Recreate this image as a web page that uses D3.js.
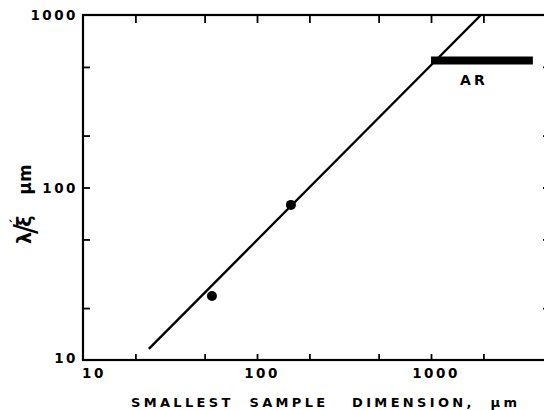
<!DOCTYPE html>
<html>
<head>
<meta charset="utf-8">
<script src="https://cdn.jsdelivr.net/npm/d3@7"></script>
<style>
  body { margin: 0; background: #fff; }
  text { font-family: "DejaVu Sans", "Liberation Sans", sans-serif; font-weight: bold; fill: #000; }
</style>
</head>
<body>
<div id="chart"></div>
<script>
// data
let fitLineX = [23.9, 1936];
let fitLineY = [11.6, 1000];
let pointX = [55.1, 156.7];
let pointY = [23.5, 79.3];
let arBarX = [1000, 3850];
let arBarY = 545;
let arLabel = "AR";
let xTickValues = [20, 50, 100, 200, 500, 1000, 2000, 5000];
let yTickValues = [20, 50, 100, 200, 500];
let xTickLabels = [10, 100, 1000];
let yTickLabels = [10, 100, 1000];
let xTitle = "SMALLEST  SAMPLE   DIMENSION,  μm";

let width = 544;
let height = 410;
let plotLeft = 83, plotTop = 15, plotBottom = 360, plotRight = 550;

let svg = d3.select("#chart")
    .append("svg")
    .attr("width", width)
    .attr("height", height);

let x = d3.scaleLog().domain([10, 10000]).range([plotLeft, plotLeft + 3 * 174]);
let y = d3.scaleLog().domain([10, 1000]).range([plotBottom, plotTop]);

// ticks (all pointing inward)
svg.append("g")
    .attr("transform", `translate(0,${plotBottom})`)
    .call(d3.axisBottom(x).tickValues(xTickValues).tickSize(-6).tickFormat(""));
svg.append("g")
    .attr("transform", `translate(0,${plotTop})`)
    .call(d3.axisTop(x).tickValues(xTickValues).tickSize(-8).tickFormat(""));
svg.append("g")
    .attr("transform", `translate(${plotLeft},0)`)
    .call(d3.axisLeft(y).tickValues(yTickValues).tickSize(-7).tickFormat(""));
svg.append("g")
    .attr("transform", `translate(${plotRight},0)`)
    .call(d3.axisRight(y).tickValues(yTickValues).tickSize(-7).tickFormat(""));

svg.selectAll(".domain").remove();
svg.selectAll(".tick line").attr("stroke", "#000").attr("stroke-width", 1.8);

// frame
svg.append("rect")
    .attr("x", plotLeft)
    .attr("y", plotTop)
    .attr("width", plotRight - plotLeft)
    .attr("height", plotBottom - plotTop)
    .attr("fill", "none")
    .attr("stroke", "#000")
    .attr("stroke-width", 2.2);

// tick labels
svg.selectAll(".xlab")
    .data(xTickLabels)
    .enter()
    .append("text")
    .attr("class", "xlab")
    .attr("x", (d, i) => x(d) + (i == 0 ? 11 : 5))
    .attr("y", 378)
    .attr("text-anchor", "middle")
    .style("font-size", "13.5px")
    .style("letter-spacing", "2.5px")
    .text(d => d);

svg.selectAll(".ylab")
    .data(yTickLabels)
    .enter()
    .append("text")
    .attr("class", "ylab")
    .attr("x", 78)
    .attr("y", (d, i) => y(d) + (i == 0 ? 3 : 5))
    .attr("text-anchor", "end")
    .style("font-size", "13.5px")
    .style("letter-spacing", "2.5px")
    .text(d => d);

// axis titles
svg.append("text")
    .attr("x", 131)
    .attr("y", 407)
    .attr("textLength", 386)
    .attr("lengthAdjust", "spacing")
    .attr("xml:space", "preserve")
    .style("font-size", "13px")
    .text(xTitle);

let ylab = svg.append("text")
    .attr("transform", "translate(31,244) rotate(-90)")
    .attr("xml:space", "preserve")
    .style("font-size", "19px");
ylab.append("tspan").text("λ");
ylab.append("tspan").style("font-size", "30px").style("font-weight", "normal").attr("dy", 4).attr("dx", -2).text("/");
ylab.append("tspan").attr("dy", -4).attr("dx", -3).text("ξ");
ylab.append("tspan").attr("dy", -11).attr("dx", -9).style("font-size", "12px").text("´");
ylab.append("tspan").attr("dy", 11).attr("dx", 24).style("font-size", "17px").text("μm");

// fitted line
let line = d3.line().x(d => x(d[0])).y(d => y(d[1]));
svg.append("path")
    .datum(d3.zip(fitLineX, fitLineY))
    .attr("d", line)
    .attr("fill", "none")
    .attr("stroke", "#000")
    .attr("stroke-width", 2.4);

// AR range bar
svg.append("line")
    .attr("x1", x(arBarX[0]))
    .attr("x2", x(arBarX[1]))
    .attr("y1", y(arBarY))
    .attr("y2", y(arBarY))
    .attr("stroke", "#000")
    .attr("stroke-width", 8);

svg.append("text")
    .attr("x", d3.mean(arBarX.map(x)) - 8)
    .attr("y", y(arBarY) + 25)
    .attr("text-anchor", "middle")
    .style("font-size", "14px")
    .style("letter-spacing", "3px")
    .text(arLabel);

// measured points
svg.selectAll("circle")
    .data(d3.zip(pointX, pointY))
    .enter()
    .append("circle")
    .attr("cx", d => x(d[0]))
    .attr("cy", d => y(d[1]))
    .attr("r", 5)
    .attr("fill", "#000");
</script>
</body>
</html>
